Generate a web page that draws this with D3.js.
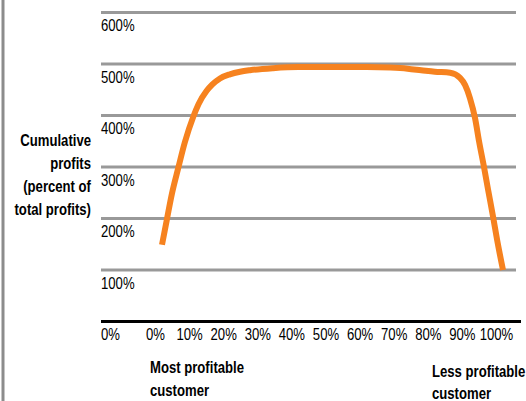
<!DOCTYPE html>
<html>
<head>
<meta charset="utf-8">
<script src="https://cdn.jsdelivr.net/npm/d3@7"></script>
<style>
  html, body { margin: 0; padding: 0; background: #fff; }
  svg { display: block; }
  text { font-family: "Liberation Sans", Arial, sans-serif; fill: #000; }
</style>
</head>
<body>
<svg id="chart" width="526" height="401"></svg>
<script>
// Share of customers, ranked from most to least profitable (%)
const customerShare = [0, 1.4, 2.9, 4.8, 6.7, 9.2, 10.7, 13.1, 14.7, 17.0, 19.9, 22.9, 25.8, 32.6, 40, 50, 60, 67, 72, 76, 80, 84.5, 87.4, 88.9, 90.3, 91.8, 93, 94.4, 95.6, 97.1, 98.2, 100];
// Cumulative profits as a percent of total profits
const cumulativeProfit = [148, 196, 247, 298, 347, 397, 421, 447, 459, 471, 479, 484, 487, 491, 493, 493, 493, 492, 490, 487, 484, 482, 472, 458, 433, 394, 348, 300, 256, 202, 160, 99];

const xTickValues = [0, 10, 20, 30, 40, 50, 60, 70, 80, 90, 100];
const yTickValues = [0, 100, 200, 300, 400, 500, 600];
const yTitleLines = ["Cumulative", "profits", "(percent of", "total profits)"];
const leftNote = ["Most profitable", "customer"];
const rightNote = ["Less profitable", "customer"];

const NARROW = 0.82; // horizontal squeeze for a narrow typeface look

const svg = d3.select("#chart");

const gridLeft = 101, gridRight = 516;
const x = d3.scaleLinear().domain([0, 100]).range([162, 503]);
const y = d3.scaleLinear().domain([0, 600]).range([321, 12]);

// frame rule on the left edge
svg.append("line")
  .attr("x1", 3).attr("x2", 3).attr("y1", 0).attr("y2", 401)
  .attr("stroke", "#8c8c8c").attr("stroke-width", 3);

// horizontal gridlines with labels sitting just below each line
const yAxis = svg.append("g")
  .attr("transform", `translate(${gridLeft},0)`)
  .call(d3.axisRight(y).tickValues(yTickValues).tickSize(gridRight - gridLeft)
    .tickFormat(d => d + "%"));
yAxis.select(".domain").remove();
yAxis.selectAll(".tick line")
  .attr("stroke", d => d === 0 ? "#000" : "#999")
  .attr("stroke-width", 3)
  .attr("x2", d => d === 0 ? 420 : gridRight - gridLeft);
yAxis.selectAll(".tick text")
  .attr("x", 0).attr("dy", null).attr("y", 19)
  .attr("text-anchor", "start")
  .attr("transform", `scale(${NARROW},1)`)
  .style("font-size", "16px");

// x tick labels
const xAxis = svg.append("g")
  .attr("transform", "translate(-7,340)")
  .call(d3.axisBottom(x).tickValues(xTickValues).tickSize(0).tickFormat(d => d + "%"));
xAxis.select(".domain").remove();
xAxis.selectAll(".tick text")
  .attr("y", 0).attr("dy", null)
  .attr("transform", `scale(${NARROW},1)`)
  .style("font-size", "16px");

// multi-line bold text block, squeezed horizontally
function textBlock(lines, x0, y0, lineGap, anchor) {
  svg.append("text")
    .attr("transform", `translate(${x0},${y0}) scale(${NARROW},1)`)
    .attr("text-anchor", anchor)
    .style("font-size", "16px").style("font-weight", "bold")
    .selectAll("tspan").data(lines).join("tspan")
    .attr("x", 0).attr("y", (d, i) => i * lineGap)
    .text(d => d);
}

textBlock(yTitleLines, 91, 146, 23, "end");
textBlock(leftNote, 150, 373, 23, "start");
textBlock(rightNote, 432, 377, 22, "start");

// cumulative profit curve
const line = d3.line()
  .x((d, i) => x(customerShare[i]))
  .y(d => y(d))
  .curve(d3.curveMonotoneX);
svg.append("path")
  .datum(cumulativeProfit)
  .attr("d", line)
  .attr("fill", "none")
  .attr("stroke", "#f6821f")
  .attr("stroke-width", 6);
</script>
</body>
</html>
